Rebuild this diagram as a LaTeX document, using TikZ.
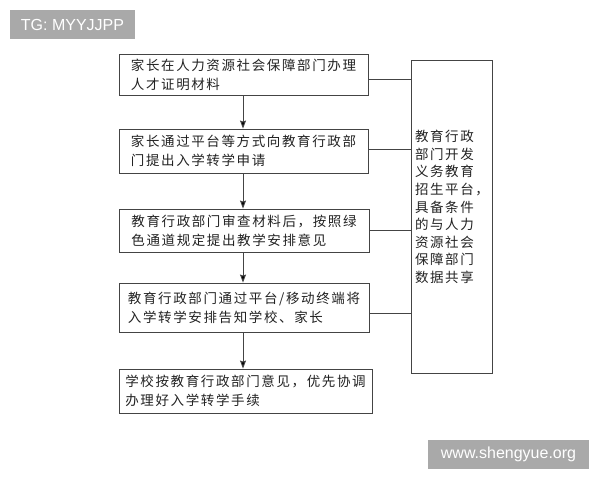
\documentclass[tikz,border=0pt]{standalone}
\usepackage{fontspec}
\setmainfont{Liberation Sans}
\newfontfamily\cjk[LetterSpace=12]{Noto Sans CJK SC}
\usetikzlibrary{arrows.meta,calc}
\definecolor{linegray}{HTML}{444444}
\definecolor{taggray}{HTML}{A9A9A9}
\definecolor{textdark}{HTML}{222222}
\tikzset{
  stepbox/.style={draw=linegray, line width=0.9pt, rectangle, align=left, inner sep=0pt,
    font=\cjk\fontsize{13.5}{19}\selectfont, text=textdark},
  sidebox/.style={draw=linegray, line width=0.9pt, rectangle, minimum width=81pt, minimum height=313pt},
  sidetext/.style={align=left, inner sep=0pt, font=\cjk\fontsize{13.5}{17.6}\selectfont, text=textdark},
  flow/.style={draw=linegray, line width=0.9pt, -{Stealth[length=8pt,width=6pt,inset=1pt,fill=black]}},
  link/.style={draw=linegray, line width=0.9pt},
  tag/.style={fill=taggray, text=white, inner sep=0pt, font=\fontsize{16}{18}\selectfont}
}
\begin{document}
\begin{tikzpicture}[x=1pt,y=-1pt]
\useasboundingbox (0,0) rectangle (600,480);
\node[tag, minimum width=125pt, minimum height=29pt] (tg) at (72.5,24.5) {TG: MYYJJPP};
\node[tag, minimum width=161pt, minimum height=29pt] (web) at (508.5,454.5) {www.shengyue.org};

\node[stepbox, minimum width=249pt, minimum height=41pt] (b1) at (243.5,74.5) {家长在人力资源社会保障部门办理\\人才证明材料};
\node[stepbox, minimum width=249pt, minimum height=44pt] (b2) at (243.5,151) {家长通过平台等方式向教育行政部\\门提出入学转学申请};
\node[stepbox, minimum width=250pt, minimum height=43pt] (b3) at (244,230.5) {教育行政部门审查材料后，按照绿\\色通道规定提出教学安排意见};
\node[stepbox, minimum width=250pt, minimum height=49pt] (b4) at (244,307.5) {教育行政部门通过平台/移动终端将\\入学转学安排告知学校、家长};
\node[stepbox, minimum width=253pt, minimum height=44pt] (b5) at (245.5,391) {学校按教育行政部门意见，优先协调\\办理好入学转学手续};

\node[sidebox] (side) at (451.5,216.5) {};
\node[sidetext] (sidet) at (452,207) {教育行政\\部门开发\\义务教育\\招生平台，\\具备条件\\的与人力\\资源社会\\保障部门\\数据共享};

\coordinate (a) at (243,0);
\draw[flow] (b1.south -| a) -- (b2.north -| a);
\draw[flow] (b2.south -| a) -- (b3.north -| a);
\draw[flow] (b3.south -| a) -- (b4.north -| a);
\draw[flow] (b4.south -| a) -- (b5.north -| a);

\coordinate (c1) at ($(b1.east)+(0,4.5)$);
\coordinate (c2) at ($(b2.east)+(0,-1.5)$);
\coordinate (c3) at ($(b3.east)+(0,-0.5)$);
\coordinate (c4) at ($(b4.east)+(0,6)$);
\draw[link] (c1) -- (c1 -| side.west);
\draw[link] (c2) -- (c2 -| side.west);
\draw[link] (c3) -- (c3 -| side.west);
\draw[link] (c4) -- (c4 -| side.west);
\end{tikzpicture}
\end{document}
